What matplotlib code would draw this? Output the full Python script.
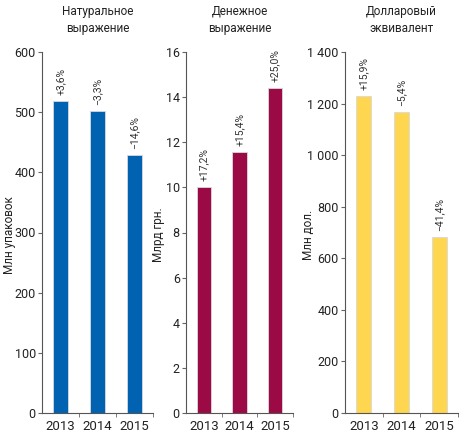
import matplotlib
matplotlib.use('Agg')
import matplotlib.pyplot as plt
from matplotlib.ticker import FuncFormatter

plt.rcParams['font.family'] = ['Roboto', 'DejaVu Sans']

# données
years = ['2013', '2014', '2015']
natural = [519, 502, 429]
natural_pct = ['+3,6%', '\u22123,3%', '\u221214,6%']
money = [10.0, 11.55, 14.42]
money_pct = ['+17,2%', '+15,4%', '+25,0%']
dollars = [1230, 1166, 682]
dollars_pct = ['+15,9%', '\u22125,4%', '\u221241,4%']

titles = ['Натуральное\nвыражение', 'Денежное\nвыражение', 'Долларовый\nэквивалент']
ylabels = ['Млн упаковок', 'Млрд грн.', 'Млн дол.']
colors = ['#0062b1', '#9c0a45', '#ffd650']
ymax = [600, 16, 1400]
ystep = [100, 2, 200]

fig = plt.figure(figsize=(4.61, 4.37), dpi=100)
W, H = 461, 437
# positions en pixels: left, right, x du ylabel
boxes = [(42, 153, 9), (186, 293, 158), (345, 458, 309)]
top, bottom = 52, 413

series = [natural, money, dollars]
pcts = [natural_pct, money_pct, dollars_pct]

def space_fmt(v, pos):
    return f'{int(v):,}'.replace(',', ' ')

for i in range(3):
    l, r, lx = boxes[i]
    ax = fig.add_axes([l / W, 1 - bottom / H, (r - l) / W, (bottom - top) / H])
    x = range(len(years))
    ax.bar(x, series[i], width=0.4, color=colors[i], edgecolor='#d8d8e0', linewidth=0.6)
    for xi, v, p in zip(x, series[i], pcts[i]):
        ax.text(xi, v + ymax[i] * 0.017, p, rotation=90, ha='center', va='bottom',
                fontsize=7.5, color='#333333')
    ax.set_xlim(-0.5, 2.5)
    ax.set_ylim(0, ymax[i])
    ax.set_yticks([k * ystep[i] for k in range(int(ymax[i] / ystep[i]) + 1)])
    ax.yaxis.set_major_formatter(FuncFormatter(space_fmt))
    ax.set_xticks([0, 1, 2])
    ax.set_xticklabels(years)
    ax.set_xticks([0.5, 1.5, 2.5], minor=True)
    ax.tick_params(axis='x', which='major', length=0, labelsize=9.5, pad=5, colors='#222222')
    ax.tick_params(axis='x', which='minor', length=3, color='#666666', direction='out')
    ax.tick_params(axis='y', length=3, labelsize=9, pad=1.5, colors='#222222')
    ax.tick_params(axis='y', color='#666666')
    for s in ['top', 'right']:
        ax.spines[s].set_visible(False)
    for s in ['left', 'bottom']:
        ax.spines[s].set_color('#555555')
        ax.spines[s].set_linewidth(0.8)
    fig.text(lx / W, 1 - 235 / H, ylabels[i], rotation=90, ha='center', va='center',
             fontsize=8.5, color='#222222')
    fig.text((l + r) / 2 / W, 1 - 20 / H, titles[i], ha='center', va='center',
             fontsize=8.5, color='#222222', linespacing=1.45)

plt.savefig('out.png', dpi=100)
